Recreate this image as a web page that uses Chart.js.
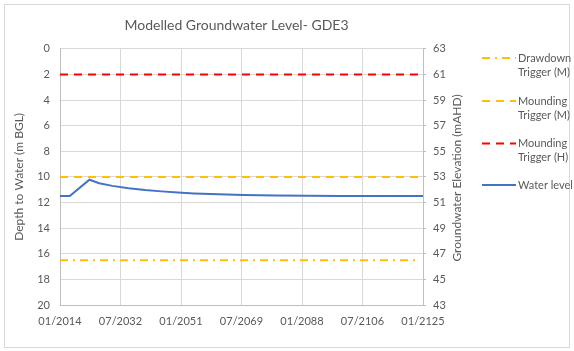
<!DOCTYPE html>
<html lang="en">
<head>
  <meta charset="UTF-8">
  <title>Modelled Groundwater Level- GDE3</title>
  <script src="https://cdn.jsdelivr.net/npm/chart.js"></script>
  <style>
    body {
      margin: 0;
      background: #fff;
    }
    canvas {
      display: block;
    }
  </style>
</head>
<body>

  <canvas id="gwChart" width="574" height="351"></canvas>

  <script>
    // modelled water level (depth below ground, m) by decimal year
    const waterYears = [2014, 2017, 2023, 2026, 2030, 2035, 2040, 2045, 2050, 2055, 2060, 2065, 2070, 2080, 2090, 2100, 2125];
    const waterDepth = [11.5, 11.5, 10.22, 10.5, 10.7, 10.88, 11.02, 11.13, 11.22, 11.29, 11.34, 11.38, 11.41, 11.45, 11.47, 11.49, 11.5];

    // trigger levels, flat across the model period
    const triggerYears = [2014, 2124];
    const drawdownM = [16.5, 16.5];
    const moundingM = [10, 10];
    const moundingH = [2, 2];

    const xTickYears = [2014, 2032.5, 2051, 2069.5, 2088, 2106.5, 2125];
    const xTickLabels = ['01/2014', '07/2032', '01/2051', '07/2069', '01/2088', '07/2106', '01/2125'];

    const legendNames = [
      ['Drawdown', 'Trigger (M)'],
      ['Mounding', 'Trigger (M)'],
      ['Mounding', 'Trigger (H)'],
      ['Water level']
    ];

    const pts = (xs, ys) => xs.map((x, i) => ({ x: x, y: ys[i] }));

    Chart.defaults.font.family = 'Lato, sans-serif';
    Chart.defaults.font.size = 11;
    Chart.defaults.color = '#595959';

    const textGrey = '#595959';
    const gridGrey = '#d9d9d9';
    const axisGrey = '#bfbfbf';

    // outer frame round the whole chart
    const frame = {
      id: 'frame',
      beforeDraw(chart) {
        const ctx = chart.ctx;
        ctx.save();
        ctx.fillStyle = '#fff';
        ctx.fillRect(0, 0, chart.width, chart.height);
        ctx.strokeStyle = gridGrey;
        ctx.lineWidth = 1;
        ctx.strokeRect(4.5, 4.5, 565, 343);
        ctx.restore();
      }
    };

    // right axis title (reads bottom to top) and the two-line legend
    const extras = {
      id: 'extras',
      afterDraw(chart) {
        const ctx = chart.ctx;
        ctx.save();
        ctx.fillStyle = textGrey;
        ctx.font = '12px Lato, sans-serif';
        ctx.textAlign = 'center';
        ctx.textBaseline = 'middle';
        ctx.translate(457, 178);
        ctx.rotate(-Math.PI / 2);
        ctx.fillText('Groundwater Elevation (mAHD)', 0, 0);
        ctx.restore();

        const rows = [58, 101, 143.5, 185];
        ctx.save();
        ctx.font = '11px Lato, sans-serif';
        ctx.textBaseline = 'middle';
        chart.data.datasets.forEach((ds, i) => {
          const y = rows[i];
          ctx.strokeStyle = ds.borderColor;
          ctx.lineWidth = ds.borderWidth;
          ctx.setLineDash(ds.borderDash || []);
          ctx.beginPath();
          ctx.moveTo(482, y);
          ctx.lineTo(516, y);
          ctx.stroke();
          ctx.setLineDash([]);
          ctx.fillStyle = textGrey;
          legendNames[i].forEach((t, j) => ctx.fillText(t, 518, y + j * 14));
        });
        ctx.restore();
      }
    };

    new Chart(document.getElementById('gwChart'), {
      type: 'line',
      data: {
        datasets: [
          {
            label: 'Drawdown Trigger (M)',
            data: pts(triggerYears, drawdownM),
            borderColor: '#ffc000',
            borderWidth: 2,
            borderDash: [8, 5, 2, 5]
          },
          {
            label: 'Mounding Trigger (M)',
            data: pts(triggerYears, moundingM),
            borderColor: '#ffc000',
            borderWidth: 2,
            borderDash: [8, 6]
          },
          {
            label: 'Mounding Trigger (H)',
            data: pts(triggerYears, moundingH),
            borderColor: '#ff0000',
            borderWidth: 2,
            borderDash: [8, 6]
          },
          {
            label: 'Water level',
            data: pts(waterYears, waterDepth),
            borderColor: '#4472c4',
            borderWidth: 2,
            tension: 0
          }
        ]
      },
      options: {
        responsive: false,
        animation: false,
        elements: { point: { radius: 0 } },
        layout: { padding: { left: 0, right: 101, top: 0, bottom: 0 } },
        plugins: {
          legend: { display: false },
          tooltip: { enabled: false },
          title: {
            display: true,
            text: 'Modelled Groundwater Level- GDE3',
            color: textGrey,
            font: { size: 14, weight: 'normal' },
            padding: { top: 17, bottom: 15 }
          }
        },
        scales: {
          x: {
            type: 'linear',
            min: 2014,
            max: 2125,
            afterBuildTicks: s => { s.ticks = xTickYears.map(v => ({ value: v })); },
            afterFit: s => { s.height = 46; },
            ticks: {
              padding: 10,
              maxRotation: 0,
              callback: (v) => xTickLabels[xTickYears.indexOf(v)]
            },
            grid: { color: gridGrey, drawTicks: false },
            border: { color: axisGrey }
          },
          y: {
            position: 'left',
            reverse: true,
            min: 0,
            max: 20,
            afterFit: s => { s.width = 60; },
            ticks: { stepSize: 2, padding: 10 },
            grid: { color: gridGrey, drawTicks: false },
            border: { color: axisGrey },
            title: {
              display: true,
              text: 'Depth to Water (m BGL)',
              color: textGrey,
              font: { size: 12 },
              padding: { top: 12 }
            }
          },
          elev: {
            position: 'right',
            min: 43,
            max: 63,
            afterFit: s => { s.width = 50; },
            ticks: { stepSize: 2, padding: 7 },
            grid: { drawOnChartArea: false, tickLength: 3, color: axisGrey },
            border: { color: axisGrey }
          }
        }
      },
      plugins: [frame, extras]
    });
  </script>

</body>
</html>
